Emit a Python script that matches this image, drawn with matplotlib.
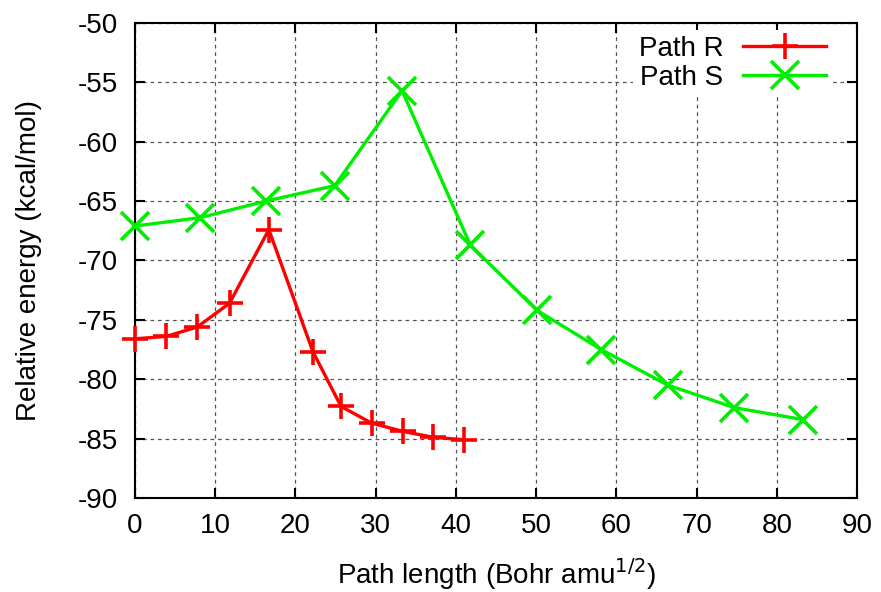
import matplotlib
matplotlib.use("Agg")
import matplotlib.pyplot as plt

plt.rcParams["font.family"] = ["Liberation Sans", "DejaVu Sans"]
plt.rcParams["axes.unicode_minus"] = False

# Path R
r_x = [0, 3.9, 7.8, 11.8, 16.7, 22.2, 25.7, 29.5, 33.4, 37.2, 41.0]
r_y = [-76.6, -76.4, -75.6, -73.6, -67.4, -77.7, -82.3, -83.7, -84.4, -84.9, -85.1]

# Path S
s_x = [0, 8.1, 16.3, 24.9, 33.3, 41.8, 50.1, 58.1, 66.4, 74.7, 83.2]
s_y = [-67.1, -66.4, -65.0, -63.7, -55.7, -68.7, -74.2, -77.5, -80.5, -82.4, -83.4]

xticks = list(range(0, 91, 10))
yticks = list(range(-90, -49, 5))

fig = plt.figure(figsize=(8.81, 5.92), dpi=100)
ax = fig.add_axes([0.153, 0.159, 0.820, 0.802])

ax.plot(r_x, r_y, color="#ff0000", lw=2.4, marker="+", ms=19, mew=2.6, label="Path R",
        zorder=3, clip_on=False)
ax.plot(s_x, s_y, color="#00ee00", lw=2.4, marker="x", ms=20, mew=2.6, label="Path S",
        zorder=3, clip_on=False)

ax.set_xlim(0, 90)
ax.set_ylim(-90, -50)
ax.set_xticks(xticks)
ax.set_yticks(yticks)
ax.tick_params(direction="in", top=True, right=True, length=7, width=1.5, labelsize=20)
ax.tick_params(axis="x", pad=11)
ax.tick_params(axis="y", pad=12)
ax.grid(True, color="#555555", linestyle=(0, (3, 3)), lw=0.9)
for sp in ax.spines.values():
    sp.set_linewidth(1.5)

ax.set_xlabel("Path length (Bohr amu$^{1/2}$)", fontsize=20, labelpad=12)
ax.set_ylabel("Relative energy (kcal/mol)", fontsize=20, labelpad=26)

leg = ax.legend(loc="upper right", bbox_to_anchor=(0.965, 0.985), markerfirst=False,
                frameon=True, fontsize=20, handlelength=3.0, borderaxespad=0.0,
                handletextpad=0.7, labelspacing=0.1, borderpad=0.2)
leg.get_frame().set_edgecolor("none")
leg.get_frame().set_facecolor("white")
leg.get_frame().set_alpha(1)
leg.set_zorder(5)

fig.savefig("out.png", dpi=100)
